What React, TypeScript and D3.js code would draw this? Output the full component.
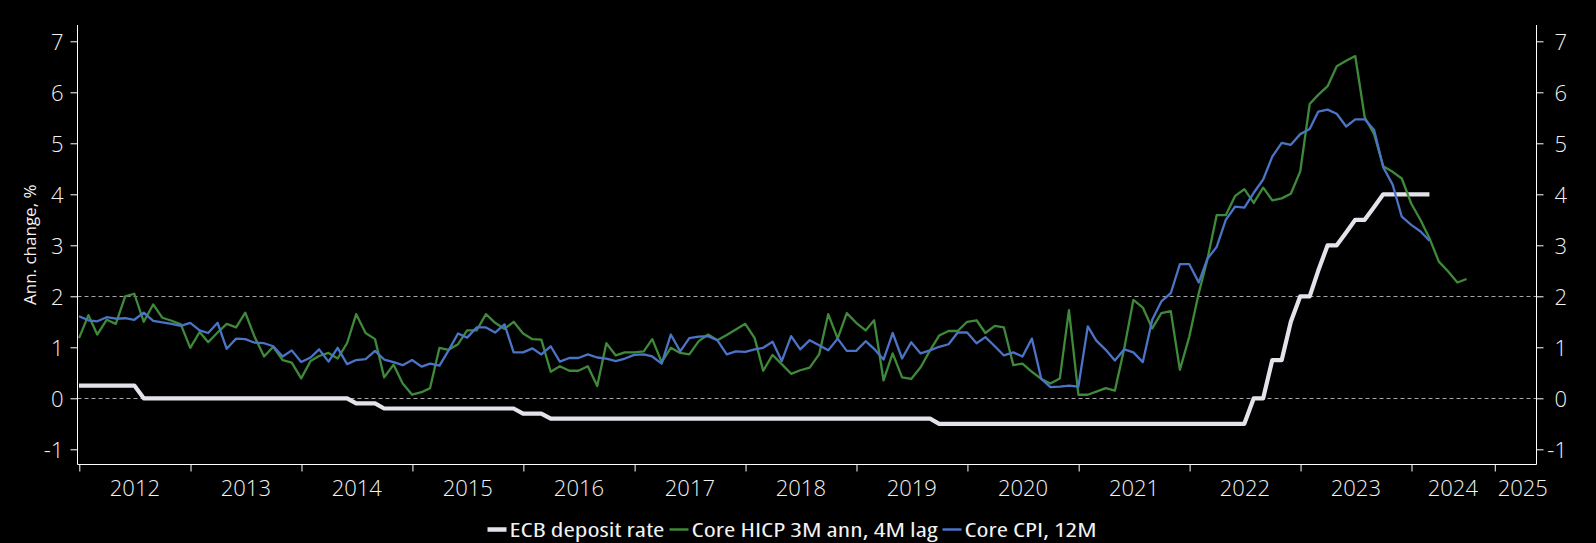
import React, { useRef, useEffect } from 'react'
import * as d3 from 'd3'

// Monthly observations, dated at month end. First point = Dec 2011.
const firstMonth = new Date(2011, 11, 1)

const ecbRate = [
  0.25, 0.25, 0.25, 0.25, 0.25, 0.25, 0.25, 0, 0, 0, 0, 0, 0, 0, 0, 0, 0, 0, 0, 0,
  0, 0, 0, 0, 0, 0, 0, 0, 0, 0, -0.1, -0.1, -0.1, -0.2, -0.2, -0.2, -0.2, -0.2, -0.2, -0.2,
  -0.2, -0.2, -0.2, -0.2, -0.2, -0.2, -0.2, -0.2, -0.3, -0.3, -0.3, -0.4, -0.4, -0.4, -0.4, -0.4, -0.4, -0.4, -0.4, -0.4,
  -0.4, -0.4, -0.4, -0.4, -0.4, -0.4, -0.4, -0.4, -0.4, -0.4, -0.4, -0.4, -0.4, -0.4, -0.4, -0.4, -0.4, -0.4, -0.4, -0.4,
  -0.4, -0.4, -0.4, -0.4, -0.4, -0.4, -0.4, -0.4, -0.4, -0.4, -0.4, -0.4, -0.4, -0.5, -0.5, -0.5, -0.5, -0.5, -0.5, -0.5,
  -0.5, -0.5, -0.5, -0.5, -0.5, -0.5, -0.5, -0.5, -0.5, -0.5, -0.5, -0.5, -0.5, -0.5, -0.5, -0.5, -0.5, -0.5, -0.5, -0.5,
  -0.5, -0.5, -0.5, -0.5, -0.5, -0.5, -0.5, 0, 0, 0.75, 0.75, 1.5, 2, 2, 2.5, 3, 3, 3.25, 3.5, 3.5,
  3.75, 4, 4, 4, 4, 4, 4,
]

const coreHicp3mAnn = [
  1.18, 1.63, 1.25, 1.54, 1.46, 2.0, 2.05, 1.5, 1.84, 1.58, 1.52, 1.45, 0.99, 1.3, 1.1, 1.29, 1.46, 1.39, 1.68, 1.2,
  0.82, 1.01, 0.75, 0.7, 0.39, 0.73, 0.83, 0.89, 0.78, 1.08, 1.65, 1.28, 1.16, 0.41, 0.66, 0.29, 0.07, 0.12, 0.2, 0.99,
  0.95, 1.06, 1.33, 1.33, 1.65, 1.48, 1.36, 1.5, 1.27, 1.16, 1.15, 0.52, 0.63, 0.54, 0.54, 0.63, 0.24, 1.08, 0.84, 0.9,
  0.9, 0.92, 1.16, 0.71, 0.99, 0.89, 0.86, 1.12, 1.25, 1.14, 1.24, 1.35, 1.46, 1.18, 0.54, 0.85, 0.67, 0.48, 0.55, 0.6,
  0.86, 1.65, 1.17, 1.67, 1.48, 1.33, 1.53, 0.35, 0.88, 0.41, 0.38, 0.61, 0.94, 1.23, 1.32, 1.32, 1.5, 1.53, 1.28, 1.42,
  1.39, 0.65, 0.68, 0.52, 0.38, 0.29, 0.39, 1.73, 0.07, 0.07, 0.13, 0.2, 0.15, 0.98, 1.93, 1.78, 1.37, 1.67, 1.71, 0.56,
  1.21, 2.06, 2.71, 3.59, 3.59, 3.97, 4.1, 3.83, 4.13, 3.88, 3.92, 4.01, 4.45, 5.77, 5.95, 6.12, 6.51, 6.62, 6.71, 5.51,
  5.18, 4.55, 4.44, 4.31, 3.82, 3.49, 3.14, 2.68, 2.49, 2.27, 2.34,
]

const coreCpi12m = [
  1.61, 1.53, 1.51, 1.59, 1.56, 1.57, 1.54, 1.68, 1.52, 1.49, 1.46, 1.42, 1.48, 1.33, 1.28, 1.48, 0.97, 1.17, 1.16, 1.09,
  1.08, 1.02, 0.82, 0.94, 0.71, 0.8, 0.96, 0.72, 0.99, 0.67, 0.75, 0.77, 0.93, 0.76, 0.71, 0.65, 0.75, 0.62, 0.68, 0.64,
  0.94, 1.27, 1.19, 1.39, 1.39, 1.29, 1.45, 0.9, 0.9, 0.98, 0.86, 1.02, 0.72, 0.79, 0.79, 0.86, 0.8, 0.78, 0.73, 0.78,
  0.85, 0.86, 0.82, 0.68, 1.25, 0.92, 1.18, 1.21, 1.22, 1.14, 0.86, 0.92, 0.91, 0.96, 0.99, 1.11, 0.73, 1.22, 0.96, 1.14,
  1.04, 0.94, 1.17, 0.93, 0.93, 1.12, 0.97, 0.76, 1.28, 0.78, 1.1, 0.88, 0.94, 1.01, 1.06, 1.29, 1.29, 1.08, 1.2, 1.02,
  0.84, 0.9, 0.82, 1.17, 0.38, 0.22, 0.23, 0.25, 0.23, 1.41, 1.13, 0.95, 0.74, 0.96, 0.9, 0.71, 1.54, 1.9, 2.06, 2.63,
  2.63, 2.27, 2.73, 2.97, 3.5, 3.76, 3.74, 4.03, 4.29, 4.74, 5.01, 4.97, 5.18, 5.28, 5.62, 5.66, 5.58, 5.33, 5.47, 5.47,
  5.26, 4.53, 4.19, 3.56, 3.4, 3.27, 3.09,
]

const yTicks = [-1, 0, 1, 2, 3, 4, 5, 6, 7]
const refLines = [0, 2]

const xTickDates = [
  '2012-01-01', '2013-01-01', '2014-01-01', '2015-01-01', '2016-01-01', '2017-01-01', '2018-01-01',
  '2019-01-01', '2020-01-01', '2021-01-01', '2022-01-01', '2023-01-01', '2024-01-01', '2024-10-01',
]
const yearLabels = ['2012', '2013', '2014', '2015', '2016', '2017', '2018', '2019', '2020', '2021', '2022', '2023', '2024', '2025']
const yearLabelDates = [
  '2012-07-02', '2013-07-02', '2014-07-02', '2015-07-02', '2016-07-02', '2017-07-02', '2018-07-02',
  '2019-07-02', '2020-07-02', '2021-07-02', '2022-07-02', '2023-07-02', '2024-05-16', '2025-01-01',
]

const seriesNames = ['ECB deposit rate', 'Core HICP 3M ann, 4M lag', 'Core CPI, 12M']

const COLORS = { ecb: '#e3e3ec', hicp: '#3f8a3a', cpi: '#4b73c6', axis: '#ffffff', text: '#f2f2f2', grid: '#a5a5a5' }
const FONT = '"Open Sans", "DejaVu Sans", sans-serif'

export default function App() {
  const svgRef = useRef<SVGSVGElement>(null)

  useEffect(() => {
    document.body.style.margin = '0'
    document.body.style.background = '#000'
    if (!svgRef.current) return

    const svg = d3.select(svgRef.current)
    svg.selectAll('*').remove()

    const W = 1596
    const H = 543
    const plot = { left: 77.5, right: 1536.5, top: 25, bottom: 464.5 }

    const parse = d3.timeParse('%Y-%m-%d')
    const monthEnd = (i: number) => d3.timeDay.offset(d3.timeMonth.offset(firstMonth, i + 1), -1)

    const x = d3.scaleTime()
      .domain([new Date(2012, 0, 1), new Date(2024, 0, 1)])
      .range([79.3, 1411.5])
    const y = d3.scaleLinear().domain([-1, 7]).range([449.3, 41.3])

    svg.append('rect').attr('width', W).attr('height', H).attr('fill', '#000')

    // dashed reference lines at 0 and 2
    svg.append('g')
      .selectAll('line')
      .data(refLines)
      .join('line')
      .attr('x1', plot.left).attr('x2', plot.right)
      .attr('y1', d => Math.round(y(d)) + 0.5).attr('y2', d => Math.round(y(d)) + 0.5)
      .attr('stroke', COLORS.grid).attr('stroke-width', 1).attr('stroke-dasharray', '4,3')

    const line = d3.line<number>()
      .x((_, i) => x(monthEnd(i)))
      .y(d => y(d))

    const series = [
      { values: ecbRate, color: COLORS.ecb, width: 4.2 },
      { values: coreHicp3mAnn, color: COLORS.hicp, width: 2.3 },
      { values: coreCpi12m, color: COLORS.cpi, width: 2.3 },
    ]

    svg.append('g')
      .selectAll('path')
      .data(series)
      .join('path')
      .attr('d', d => line(d.values))
      .attr('fill', 'none')
      .attr('stroke', d => d.color)
      .attr('stroke-width', d => d.width)
      .attr('stroke-linejoin', 'round')

    // axis frame
    const frame = svg.append('g').attr('stroke', COLORS.axis).attr('stroke-width', 1)
    frame.append('line').attr('x1', plot.left).attr('x2', plot.left).attr('y1', plot.top).attr('y2', plot.bottom)
    frame.append('line').attr('x1', plot.right).attr('x2', plot.right).attr('y1', plot.top).attr('y2', plot.bottom)
    frame.append('line').attr('x1', plot.left).attr('x2', plot.right).attr('y1', plot.bottom).attr('y2', plot.bottom)

    const styleAxis = (g: d3.Selection<SVGGElement, unknown, null, undefined>) => {
      g.select('.domain').remove()
      g.selectAll('line').attr('stroke', COLORS.axis)
      g.selectAll('text')
        .attr('fill', COLORS.text)
        .attr('font-family', FONT)
        .attr('font-size', 22)
        .attr('font-weight', 300)
    }

    const yLeft = svg.append('g')
      .attr('transform', `translate(${plot.left},0)`)
      .call(d3.axisLeft(y).tickValues(yTicks).tickSize(7).tickPadding(7).tickFormat(d => String(d)))
    styleAxis(yLeft)
    yLeft.selectAll('text').attr('dy', '0.36em')

    const yRight = svg.append('g')
      .attr('transform', `translate(${plot.right},0)`)
      .call(d3.axisRight(y).tickValues(yTicks).tickSize(7).tickFormat(d => String(d)))
    styleAxis(yRight)
    yRight.selectAll('text').attr('text-anchor', 'end').attr('x', 30.5).attr('dy', '0.36em')

    const xAxis = svg.append('g')
      .attr('transform', `translate(0,${plot.bottom})`)
      .call(d3.axisBottom(x).tickValues(xTickDates.map(d => parse(d)!)).tickSize(7).tickFormat(() => ''))
    styleAxis(xAxis)

    svg.append('g')
      .selectAll('text')
      .data(yearLabels)
      .join('text')
      .attr('x', (_, i) => x(parse(yearLabelDates[i])!))
      .attr('y', 495.5)
      .attr('text-anchor', 'middle')
      .attr('fill', COLORS.text)
      .attr('font-family', FONT)
      .attr('font-size', 22)
      .attr('font-weight', 300)
      .text(d => d)

    svg.append('text')
      .attr('transform', `translate(36,${(plot.top + plot.bottom) / 2}) rotate(-90)`)
      .attr('text-anchor', 'middle')
      .attr('fill', COLORS.text)
      .attr('font-family', FONT)
      .attr('font-size', 17)
      .text('Ann. change, %')

    // legend, centred under the plot
    const textWidths = [155, 246, 132]
    const swatchW = 19
    const total = d3.sum(textWidths) + textWidths.length * (swatchW + 3) + (textWidths.length - 1) * 5
    let cx = 792 - total / 2
    const legend = svg.append('g')
    seriesNames.forEach((name, i) => {
      legend.append('line')
        .attr('x1', cx).attr('x2', cx + swatchW)
        .attr('y1', 529.5).attr('y2', 529.5)
        .attr('stroke', series[i].color)
        .attr('stroke-width', i === 0 ? 4.5 : 2.5)
      cx += swatchW + 3
      legend.append('text')
        .attr('x', cx).attr('y', 536.5)
        .attr('fill', COLORS.text)
        .attr('font-family', FONT)
        .attr('font-stretch', 'condensed')
        .attr('font-size', 20)
        .attr('textLength', textWidths[i])
        .attr('lengthAdjust', 'spacingAndGlyphs')
        .text(name)
      cx += textWidths[i] + 5
    })
  }, [])

  return <svg ref={svgRef} width={1596} height={543} style={{ display: 'block', background: '#000' }} />
}
